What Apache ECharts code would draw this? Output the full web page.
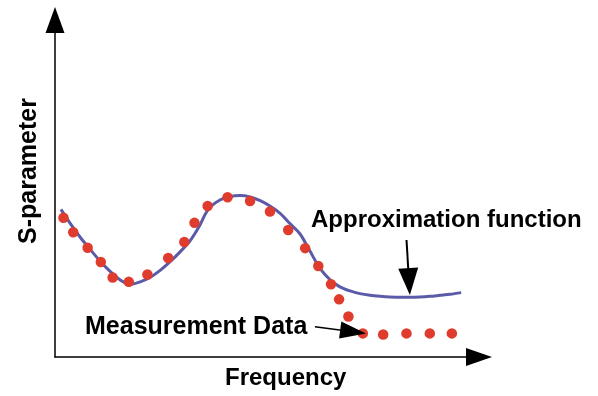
<!DOCTYPE html>
<html>
<head>
<meta charset="utf-8">
<script src="https://cdn.jsdelivr.net/npm/echarts@6/dist/echarts.min.js"></script>
<style>
html,body{margin:0;padding:0;background:#fff;}
#chart{width:598px;height:396px;}
</style>
</head>
<body>
<div id="chart"></div>
<script>
// Measurement data (frequency, S-parameter) in normalized units
const measFreq = [2.0, 4.3, 7.7, 10.8, 13.6, 17.4, 21.8, 26.7, 30.5, 32.9, 36.0, 40.7, 46.0, 50.7, 55.0, 59.0, 62.1, 65.1, 67.0, 69.2, 72.6, 77.4, 82.9, 88.4, 93.6];
const measS    = [41.3, 37.0, 32.4, 28.2, 23.6, 22.3, 24.5, 29.4, 34.1, 39.8, 44.8, 47.4, 46.3, 43.2, 37.7, 32.3, 27.0, 21.6, 17.1, 12.0, 7.0, 6.7, 7.0, 7.0, 7.0];
// Approximation function samples
const approxFreq = [1.4, 3.5, 5.9, 8.3, 10.6, 13.0, 15.3, 17.7, 20.1, 22.4, 24.8, 27.1, 29.5, 31.8, 34.2, 35.4, 36.6, 38.9, 41.3, 43.6, 46.0, 48.4, 50.7, 53.1, 55.4, 57.8, 60.1, 62.5, 64.9, 67.2, 69.6, 71.9, 74.3, 76.7, 79.0, 81.4, 83.7, 86.1, 88.4, 90.8, 93.2, 95.8];
const approxS    = [43.8, 39.8, 35.6, 31.9, 28.5, 25.4, 22.9, 21.5, 22.3, 23.6, 25.7, 28.2, 31.2, 34.4, 39.2, 42.3, 44.5, 46.6, 47.6, 47.9, 47.5, 46.4, 44.8, 42.6, 39.6, 36.5, 31.5, 26.3, 22.9, 20.8, 19.6, 18.8, 18.3, 18.0, 17.8, 17.7, 17.7, 17.8, 18.0, 18.3, 18.6, 19.1];
// Annotation arrows: [start, arrow-head center]
const approxArrow = [[82.9, 34.7], [83.5, 22.4]];
const measArrow   = [[61.3, 9.0], [70.3, 7.5]];
const labels = {x: 'Frequency', y: 'S-parameter', approx: 'Approximation function', meas: 'Measurement Data'};

const zip = (a, b) => a.map((v, i) => [v, b[i]]);
const font = (s) => 'bold ' + s + 'px "Liberation Sans", Arial, sans-serif';

const chart = echarts.init(document.getElementById('chart'), null, {renderer: 'canvas'});
chart.setOption({
  animation: false,
  grid: {left: 55, right: 119, top: 20, bottom: 39, containLabel: false},
  xAxis: {
    type: 'value', min: 0, max: 100,
    axisLine: {show: true, lineStyle: {color: '#000', width: 1.5}, symbol: ['none', 'triangle'], symbolSize: [18, 26]},
    axisTick: {show: false}, axisLabel: {show: false}, splitLine: {show: false}
  },
  yAxis: {
    type: 'value', min: 0, max: 100,
    axisLine: {show: true, lineStyle: {color: '#000', width: 1.5}, symbol: ['none', 'triangle'], symbolSize: [19, 26]},
    axisTick: {show: false}, axisLabel: {show: false}, splitLine: {show: false}
  },
  series: [
    {
      type: 'line', name: labels.approx,
      data: zip(approxFreq, approxS),
      smooth: 0.3, showSymbol: false,
      lineStyle: {color: '#5b5ba8', width: 3},
      z: 2,
      markLine: {
        silent: true, animation: false,
        label: {show: false},
        lineStyle: {color: '#000', width: 2, type: 'solid'},
        symbol: ['none', 'triangle'],
        data: [
          [{coord: approxArrow[0], symbol: 'none'}, {coord: approxArrow[1], symbol: 'triangle', symbolSize: [20, 27]}],
          [{coord: measArrow[0], symbol: 'none', lineStyle: {width: 1.5}}, {coord: measArrow[1], symbol: 'triangle', symbolSize: [17, 26]}]
        ]
      }
    },
    {
      type: 'scatter', name: labels.meas,
      data: zip(measFreq, measS),
      symbol: 'circle', symbolSize: 10.5,
      itemStyle: {color: '#e03c2d', opacity: 1},
      z: 3
    }
  ],
  graphic: [
    {type: 'text', x: 311, y: 220, style: {text: labels.approx, font: font(24), fill: '#000', align: 'left', verticalAlign: 'middle'}},
    {type: 'text', x: 85, y: 327, style: {text: labels.meas, font: font(25), fill: '#000', align: 'left', verticalAlign: 'middle'}},
    {type: 'text', x: 225, y: 378, style: {text: labels.x, font: font(24), fill: '#000', align: 'left', verticalAlign: 'middle'}},
    {type: 'text', x: 29, y: 171, rotation: Math.PI / 2, style: {text: labels.y, font: font(25), fill: '#000', align: 'center', verticalAlign: 'middle'}}
  ]
});
</script>
</body>
</html>
